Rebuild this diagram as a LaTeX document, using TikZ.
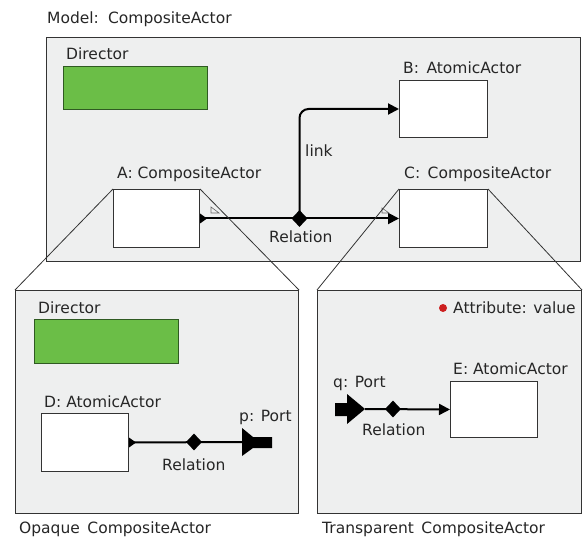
\documentclass[tikz,border=0pt]{standalone}
\usepackage{fontspec}
\setmainfont{DejaVu Sans}
\usetikzlibrary{shapes.geometric,arrows.meta,calc}
\definecolor{panelgray}{HTML}{EEEFEF}
\definecolor{dirgreen}{HTML}{6BBE47}
\definecolor{dirline}{HTML}{2F5A22}
\definecolor{attrred}{HTML}{CC1F1F}
\definecolor{boxline}{HTML}{333333}
\tikzset{
  panelbox/.style={draw=boxline, line width=1pt, fill=panelgray, anchor=north west, inner sep=0pt},
  dirbox/.style={draw=dirline, line width=1pt, fill=dirgreen, anchor=north west, inner sep=0pt},
  actorbox/.style={draw=boxline, line width=1pt, fill=white, anchor=north west, inner sep=0pt},
  lbl/.style={anchor=base west, inner sep=0pt, text=black!85},
  conn/.style={line width=2pt, black},
  arr/.style={-{Triangle[length=11pt,width=11pt]}},
  diam/.style={diamond, fill=black, inner sep=0pt, minimum width=16pt, minimum height=17pt},
  zoomline/.style={line width=0.8pt, black!80},
  tinymark/.style={line width=0.6pt, black!60}
}
\begin{document}
\begin{tikzpicture}[x=1pt,y=-1pt,font=\fontsize{15.5}{18}\selectfont]
\useasboundingbox (0,0) rectangle (584,540);

% top model panel
\node[panelbox, minimum width=534pt, minimum height=224pt] (top) at (46,37) {};
\node[lbl] (topT) at (47,24) {Model:\, CompositeActor};
\node[dirbox, minimum width=144pt, minimum height=43pt] (dir1) at (63,66) {};
\node[lbl] (dir1T) at (66,60) {Director};

\node[actorbox, minimum width=86pt, minimum height=58pt] (A) at (113,189) {};
\node[lbl] (AT) at (117,179) {A: CompositeActor};
\node[actorbox, minimum width=88pt, minimum height=57pt] (B) at (399,80) {};
\node[lbl] (BT) at (403,74) {B:\, AtomicActor};
\node[actorbox, minimum width=88pt, minimum height=58pt] (C) at (399,189) {};
\node[lbl] (CT) at (404,179) {C:\, CompositeActor};

% lower panels
\node[panelbox, minimum width=283pt, minimum height=223pt] (LL) at (15,290) {};
\node[panelbox, minimum width=264pt, minimum height=223pt] (LR) at (317,290) {};
\node[lbl] (LLT) at (19,533) {Opaque\, CompositeActor};
\node[lbl] (LRT) at (322,533) {Transparent\, CompositeActor};

\node[dirbox, minimum width=144pt, minimum height=44pt] (dir2) at (34,319) {};
\node[lbl] (dir2T) at (38,313) {Director};
\node[actorbox, minimum width=87pt, minimum height=58pt] (D) at (41,413) {};
\node[lbl] (DT) at (44,407) {D: AtomicActor};
\node[actorbox, minimum width=87pt, minimum height=56pt] (E) at (450,381) {};
\node[lbl] (ET) at (453,374) {E: AtomicActor};

% top relation
\fill (A.east) ++(0,-5) -- ++(7,5) -- ++(-7,5) -- cycle;
\draw[conn, arr] (A.east) -- (C.west);
\node[diam] (R1) at ($(A.east)!0.5!(C.west)$) {};
\node[lbl] (R1T) at (269,243) {Relation};
\draw[conn, arr, rounded corners=9pt] (R1.center) -- (R1.center |- B.west) -- (B.west);
\node[lbl] (linkT) at (305,157) {link};

% opaque: D to port p
\coordinate (pIn) at (242,442);
\fill (D.east) ++(0,-5) -- ++(7,5) -- ++(-7,5) -- cycle;
\draw[conn] (D.east) -- (pIn);
\node[diam] (R2) at (194,442) {};
\node[lbl] (R2T) at (162,470) {Relation};
\fill (pIn) ++(0,-14) -- ++(11,9) -- ++(19,0) -- ++(0,11) -- ++(-19,0) -- ++(-11,8) -- cycle;
\node[lbl] (pT) at (239,421) {p: Port};

% transparent: port q to E
\coordinate (qTip) at (365,409);
\fill (qTip) -- ++(-18,-15) -- ++(0,9) -- ++(-12,0) -- ++(0,13) -- ++(12,0) -- ++(0,8) -- cycle;
\draw[conn, arr] (qTip) -- (E.west);
\node[diam] (R3) at (393,409) {};
\node[lbl] (qT) at (333,387) {q: Port};
\node[lbl] (R3T) at (362,435) {Relation};

% attribute
\fill[attrred] (443,308) circle (4pt);
\node[lbl] (attrT) at (453,313) {Attribute: value};

% small port marks
\draw[tinymark] (211,207) -- (219,213) -- (211,213) -- cycle;
\draw[tinymark] (382,208) -- (389,213) -- (382,213) -- cycle;

% zoom lines
\draw[zoomline] (A.north west) -- (LL.north west);
\draw[zoomline] (A.north east) -- (LL.north east);
\draw[zoomline] (C.north west) -- (LR.north west);
\draw[zoomline] (C.north east) -- (LR.north east);
\end{tikzpicture}
\end{document}
